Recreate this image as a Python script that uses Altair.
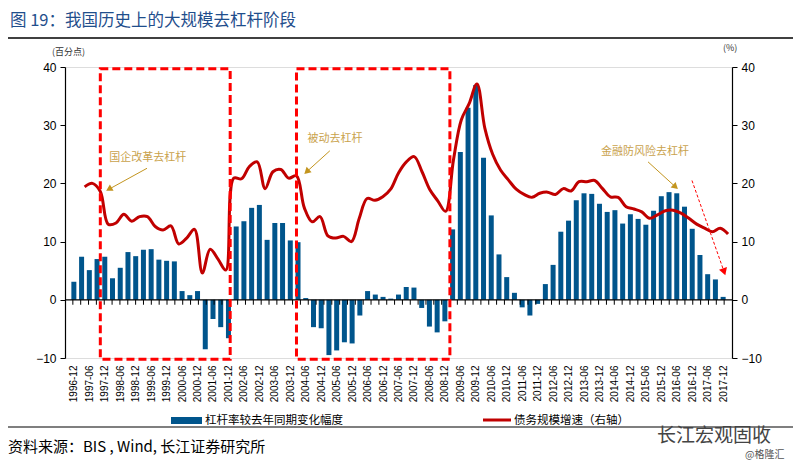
import json
import altair as alt
import pandas as pd

# ---------------- data ----------------
tick_labels = [
    "1996-12", "1997-06", "1997-12", "1998-06", "1998-12", "1999-06", "1999-12",
    "2000-06", "2000-12", "2001-06", "2001-12", "2002-06", "2002-12", "2003-06",
    "2003-12", "2004-06", "2004-12", "2005-06", "2005-12", "2006-06", "2006-12",
    "2007-06", "2007-12", "2008-06", "2008-12", "2009-06", "2009-12", "2010-06",
    "2010-12", "2011-06", "2011-12", "2012-06", "2012-12", "2013-06", "2013-12",
    "2014-06", "2014-12", "2015-06", "2015-12", "2016-06", "2016-12", "2017-06",
    "2017-12",
]

# 杠杆率较去年同期变化幅度 (quarterly, 1996-12 .. 2017-12)
leverage_change = [
    3.1, 7.4, 5.1, 7.0, 7.4, 3.7, 5.5, 8.2, 7.5, 8.6,
    8.7, 6.9, 6.7, 6.6, 1.5, 0.8, 1.5, -8.5, -3.3, -4.7,
    -6.6, 12.6, 13.5, 15.8, 16.3, 10.3, 13.2, 13.2, 10.2, 9.9,
    0.3, -4.7, -4.9, -9.5, -8.7, -7.3, -7.5, -2.7, 1.5, 0.9,
    0.5, 0.2, 0.9, 2.2, 2.1, -1.4, -4.6, -5.6, -3.7, 12.1,
    25.4, 33.0, 36.9, 24.4, 14.5, 7.8, 3.9, 1.2, -1.3, -2.7,
    -0.7, 2.7, 6.0, 11.7, 13.6, 17.1, 18.3, 18.2, 16.5, 15.1,
    15.4, 13.1, 14.7, 13.9, 12.9, 15.3, 17.8, 18.5, 18.3, 16.0,
    12.2, 7.7, 4.4, 3.5, 0.5,
]

# 债务规模增速（右轴）
debt_growth = [
    None, None, 19.4, 20.0, 18.6, 13.0, 13.2, 14.7, 13.5, 14.3,
    14.3, 12.6, 12.0, 12.7, 9.6, 10.6, 12.1, 4.6, 8.7, 7.0,
    5.1, 20.9, 20.8, 22.9, 23.7, 19.1, 22.0, 22.4, 20.9, 21.3,
    15.8, 13.4, 14.3, 11.0, 10.6, 10.9, 10.0, 14.0, 17.4, 17.1,
    17.7, 19.0, 21.8, 23.7, 24.6, 22.0, 18.9, 17.0, 15.2, 24.0,
    30.9, 33.7, 37.1, 29.5, 25.0, 22.3, 20.6, 19.0, 18.1, 17.6,
    18.3, 18.5, 18.1, 19.1, 18.7, 20.3, 20.3, 20.5, 19.1, 17.7,
    17.6, 16.0, 15.6, 15.1, 14.0, 14.6, 15.3, 15.4, 14.9, 14.0,
    13.0, 12.3, 11.7, 12.3, 11.3,
]

phase_names = ["国企改革去杠杆", "被动去杠杆", "金融防风险去杠杆"]

# ---------------- styling ----------------
BAR_C = "#00558C"
LINE_C = "#C00000"
BOX_C = "#FF0000"
ANN_TXT = "#C9A24C"
ANN_ARR = "#C3951F"
TITLE_C = "#1F4E8C"
CJK = "Noto Sans CJK SC"
LAT = "Liberation Sans"

X_DOM = [-0.5, len(leverage_change) - 0.5]
Y_DOM = [-10, 40]


def xs():
    return alt.Scale(domain=X_DOM, nice=False, zero=False)


def ys():
    return alt.Scale(domain=Y_DOM, nice=False, zero=False)


idx = list(range(len(leverage_change)))
df = pd.DataFrame({"i": idx, "lev": leverage_change, "debt": debt_growth})
df_line = df.dropna(subset=["debt"])

label_expr = json.dumps(tick_labels) + "[round(datum.value / 2)]"

yvals = [-10, 0, 10, 20, 30, 40]

bars = alt.Chart(df).mark_bar(color=BAR_C, size=5, orient="vertical").encode(
    x=alt.X("i:Q", scale=xs(), axis=alt.Axis(
        values=list(range(0, len(leverage_change), 2)), labelExpr=label_expr,
        labelAngle=-90, labelAlign="right", labelBaseline="middle",
        domain=False, ticks=False, grid=False, labelPadding=7,
        labelFontSize=10, labelColor="black", labelFont=LAT, title=None,
        labelOverlap=False, labelBound=False, labelFlush=False)),
    y=alt.Y("lev:Q", scale=ys(), axis=alt.Axis(
        orient="left", values=yvals, tickSize=5, labelPadding=4, grid=False,
        domainColor="black", tickColor="black", labelColor="black",
        labelFontSize=12, labelFont=LAT, title=None, domainWidth=1.2,
        labelFlush=False)),
    y2=alt.datum(0),
)

line = alt.Chart(df_line).mark_line(
    color=LINE_C, strokeWidth=3, interpolate="catmull-rom").encode(
    x=alt.X("i:Q", scale=xs(), axis=None),
    y=alt.Y("debt:Q", scale=ys(), axis=alt.Axis(
        orient="right", values=yvals, tickSize=5, labelPadding=4, grid=False,
        domainColor="black", tickColor="black", labelColor="black",
        labelFontSize=12, labelFont=LAT, title=None, domainWidth=1.2,
        labelFlush=False)),
)

# zero line with category ticks
zero_df = pd.DataFrame({"a": [X_DOM[0]], "b": [X_DOM[1]]})
zero_rule = alt.Chart(zero_df).mark_rule(color="black", strokeWidth=1.2).transform_calculate(
    z="0").encode(
    x=alt.X("a:Q", scale=xs(), axis=None), x2="b:Q",
    y=alt.Y("z:Q", scale=ys(), axis=None),
)

tick_df = pd.DataFrame({"t": [k + 0.5 for k in range(len(leverage_change) - 1)]})
ticks = alt.Chart(tick_df).mark_rule(color="black", strokeWidth=1).transform_calculate(
    z0="0", z1="-0.85").encode(
    x=alt.X("t:Q", scale=xs(), axis=None),
    y=alt.Y("z0:Q", scale=ys(), axis=None), y2="z1:Q",
)

# dashed boxes marking the phases
box_df = pd.DataFrame({"x": [4.0, 29.0], "x2": [20.55, 48.55],
                       "y": [39.7, 39.7], "y2": [-10.2, -10.2]})
boxes = alt.Chart(box_df).mark_rect(
    fillOpacity=0, stroke=BOX_C, strokeWidth=3, strokeDash=[8, 4]).encode(
    x=alt.X("x:Q", scale=xs(), axis=None), x2="x2:Q",
    y=alt.Y("y:Q", scale=ys(), axis=None), y2="y2:Q",
)

# annotations
ann_df = pd.DataFrame({"x": [5.15, 30.4, 67.8], "y": [24.4, 27.6, 25.4], "t": phase_names})
ann_text = alt.Chart(ann_df).mark_text(
    align="left", baseline="middle", font=CJK, fontSize=11, color=ANN_TXT).encode(
    x=alt.X("x:Q", scale=xs(), axis=None),
    y=alt.Y("y:Q", scale=ys(), axis=None), text="t:N",
)

arr_df = pd.DataFrame({"x": [9.95, 33.25, 73.8], "y": [22.6, 25.6, 23.7],
                       "x2": [5.1, 30.3, 77.3], "y2": [19.0, 22.0, 19.4],
                       "ang": [240, 228, 132]})
arr_lines = alt.Chart(arr_df).mark_rule(color=ANN_ARR, strokeWidth=1).encode(
    x=alt.X("x:Q", scale=xs(), axis=None), x2="x2:Q",
    y=alt.Y("y:Q", scale=ys(), axis=None), y2="y2:Q",
)
arr_heads = alt.Chart(arr_df).mark_point(
    shape="triangle-up", filled=True, size=55, color=ANN_ARR, opacity=1).encode(
    x=alt.X("x2:Q", scale=xs(), axis=None),
    y=alt.Y("y2:Q", scale=ys(), axis=None),
    angle=alt.Angle("ang:Q", scale=None),
)

red_df = pd.DataFrame({"x": [79.4], "y": [20.5], "x2": [83.5], "y2": [4.8], "ang": [161]})
red_line = alt.Chart(red_df).mark_rule(color=BOX_C, strokeWidth=1, strokeDash=[3, 2]).encode(
    x=alt.X("x:Q", scale=xs(), axis=None), x2="x2:Q",
    y=alt.Y("y:Q", scale=ys(), axis=None), y2="y2:Q",
)
red_head = alt.Chart(red_df).mark_point(
    shape="triangle-up", filled=True, size=70, color=BOX_C, opacity=1).encode(
    x=alt.X("x2:Q", scale=xs(), axis=None),
    y=alt.Y("y2:Q", scale=ys(), axis=None),
    angle=alt.Angle("ang:Q", scale=None),
)

one = alt.Data(values=[{}])


def txt(s, x, y, size, color="black", font=CJK, weight="normal", align="left"):
    return alt.Chart(one).mark_text(
        align=align, baseline="middle", font=font, fontSize=size, color=color,
        fontWeight=weight).encode(x=alt.value(x), y=alt.value(y), text=alt.value(s))


def hrule(x1, x2, y, color="black", w=1.5):
    return alt.Chart(one).mark_rule(color=color, strokeWidth=w).encode(
        x=alt.value(x1), x2=alt.value(x2), y=alt.value(y))


title = txt("图 19：我国历史上的大规模去杠杆阶段", -55, -46, 16.5, TITLE_C, weight="normal")
title_rule = hrule(-57, 728, -29, "black", 1.5)
unit_l = txt("(百分点)", -13, -15, 9, "#333333")
unit_r = txt("(%)", 658, -19, 9, "#333333")

leg_box = alt.Chart(one).mark_rect(color=BAR_C).encode(
    x=alt.value(106), x2=alt.value(137), y=alt.value(350), y2=alt.value(357))
leg_t1 = txt("杠杆率较去年同期变化幅度", 140, 354, 11.5)
leg_line = alt.Chart(one).mark_rule(color=LINE_C, strokeWidth=3).encode(
    x=alt.value(418), x2=alt.value(446), y=alt.value(353))
leg_t2 = txt("债务规模增速（右轴）", 449, 354, 11.5)

bottom_rule = hrule(-57, 728, 360, "black", 1.2)
source = txt("资料来源：BIS , Wind, 长江证券研究所", -57, 380, 15)
wm1 = txt("长江宏观固收", 592, 369, 19, "#444444")
wm2 = txt("@格隆汇", 680, 388, 10, "#555555")

chart = alt.layer(
    bars, zero_rule, ticks, line, boxes, ann_text, arr_lines, arr_heads,
    red_line, red_head, title, title_rule, unit_l, unit_r, leg_box, leg_t1,
    leg_line, leg_t2, bottom_rule, source, wm1, wm2,
).resolve_scale(x="independent", y="independent").properties(
    width=667, height=291, autosize="none",
    padding={"left": 57, "top": 59, "right": 61, "bottom": 104},
).configure_view(stroke=None).configure(background="white")

chart.save("out.html", embed_options={"renderer": "svg", "actions": False})
